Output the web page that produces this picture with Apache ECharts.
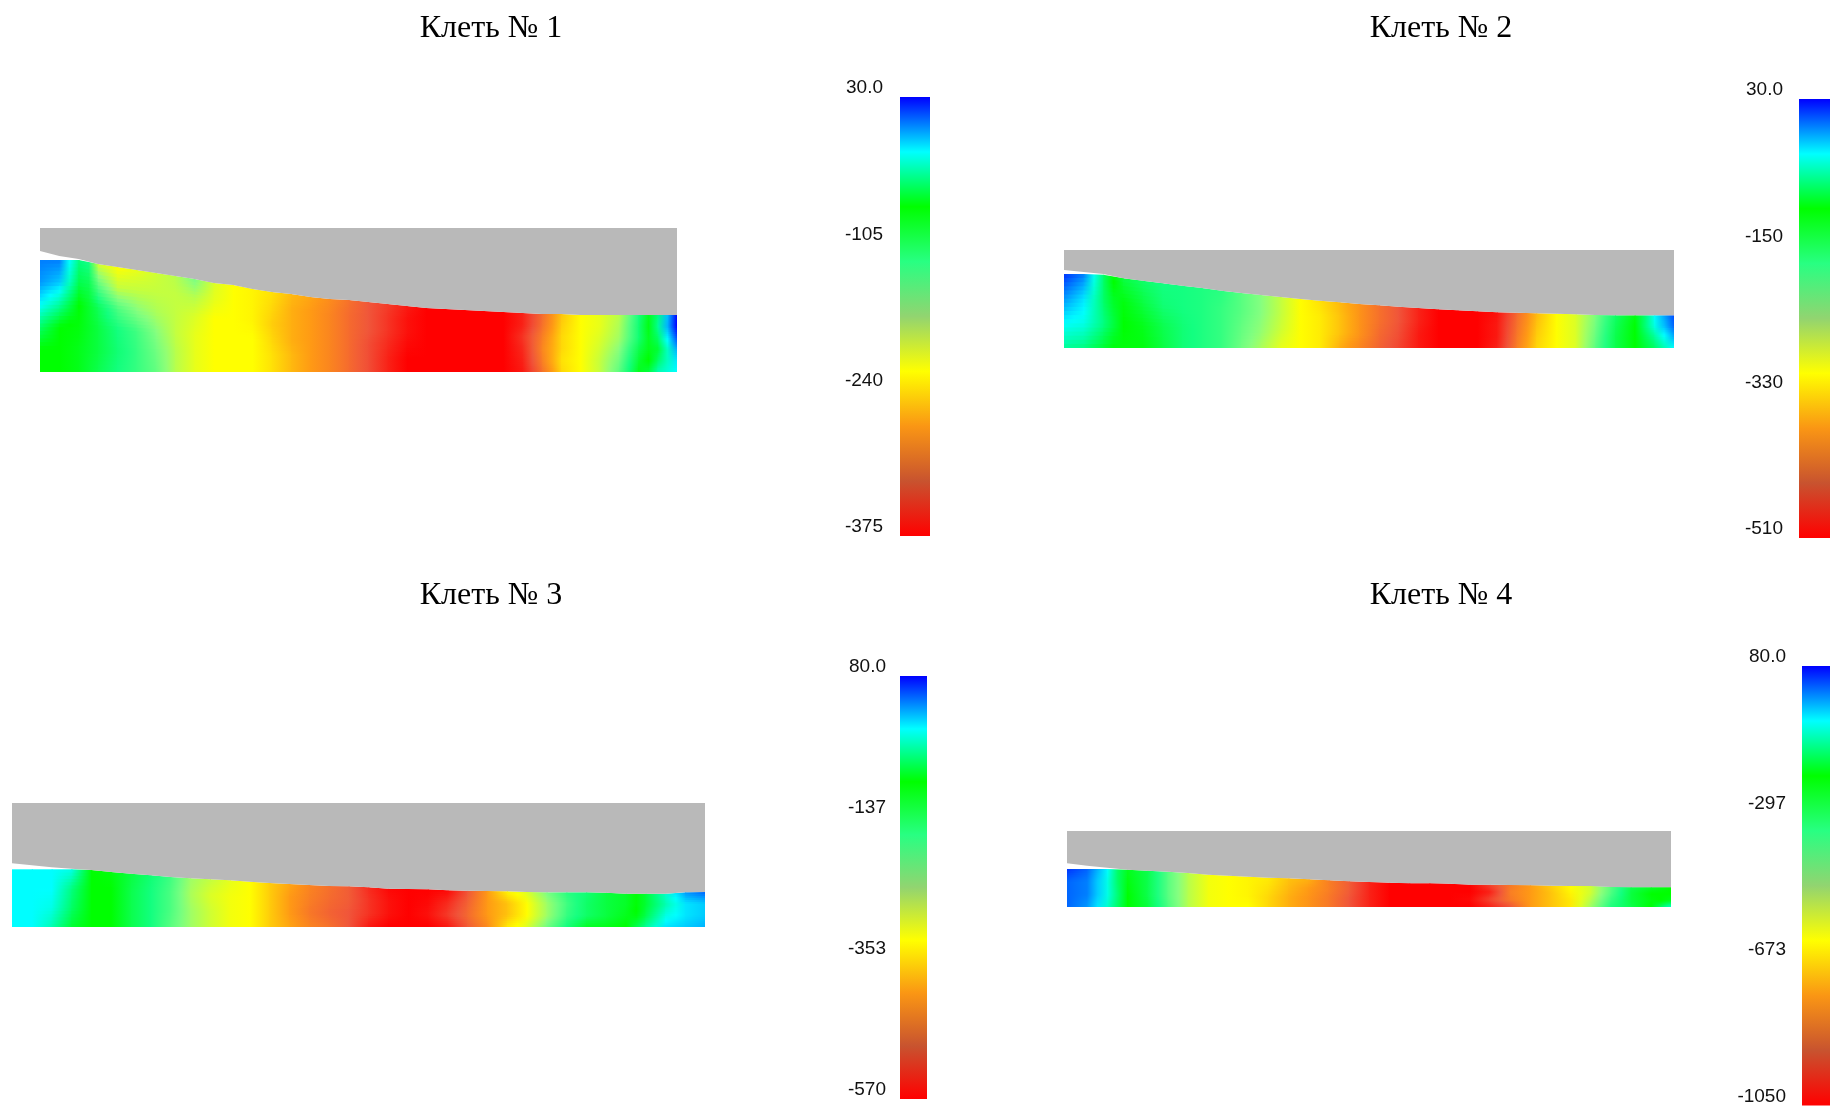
<!DOCTYPE html>
<html><head><meta charset="utf-8">
<style>html,body{margin:0;padding:0;background:#fff}#c{width:1830px;height:1106px}</style>
<script src="https://cdn.jsdelivr.net/npm/echarts@6/dist/echarts.min.js"></script>
</head><body><div id="c"></div>
<script>
const titles = ['Клеть № 1','Клеть № 2','Клеть № 3','Клеть № 4'];

const scaleMax = [30, 30, 80, 80];
const scaleMin = [-375, -510, -570, -1050];
const tickValues1 = [30,-105,-240,-375];
const tickValues2 = [30,-150,-330,-510];
const tickValues3 = [80,-137,-353,-570];
const tickValues4 = [80,-297,-673,-1050];
const tickLabels1 = ['30.0','-105','-240','-375'];
const tickLabels2 = ['30.0','-150','-330','-510'];
const tickLabels3 = ['80.0','-137','-353','-570'];
const tickLabels4 = ['80.0','-297','-673','-1050'];

// strip surface height and roll edge height, per column
const surface1 = [112,112,112,108,105,102,99,96,93,89,87,83,80,78,75,73,72,70,68,66,64,63,62,61,60,59,58,58,57,57,57,57,57,57];
const roll1    = [121,116,113,108,105,102,99,96,93,89,87,83,80,78,75,73,72,70,68,66,64,63,62,61,60,59,58,58,57,57,57,57,57,57];
const surface2 = [74,74,73.3,69.7,67.3,64.7,62.3,60,57.3,55,53,51,49,47.3,45.7,44,42.7,41.3,40,38.7,37.7,36.7,35.7,35.3,34.7,34.3,33.7,33,32.7,32.7,32.7,32.7];
const roll2    = [78,76,74,69.7,67.3,64.7,62.3,60,57.3,55,53,51,49,47.3,45.7,44,42.7,41.3,40,38.7,37.7,36.7,35.7,35.3,34.7,34.3,33.7,33,32.7,32.7,32.7,32.7];
const surface3 = [57.7,57.7,57.7,57.7,57,55,53.3,51.7,50,48.7,47.7,46.7,45.3,44,43,42,41,40.7,39.7,38.3,38,37.7,36.7,36.3,36,35.7,35,34.7,34.7,34.7,34.3,33.3,33.3,33.3,34.7,35];
const roll3    = [63.7,61.7,59.7,58.3,57,55,53.3,51.7,50,48.7,47.7,46.7,45.3,44,43,42,41,40.7,39.7,38.3,38,37.7,36.7,36.3,36,35.7,35,34.7,34.7,34.7,34.3,33.3,33.3,33.3,34.7,35];
const surface4 = [38,38,38,37.3,36.3,35.3,34,32.3,31.3,30.3,29.3,28.7,27.7,26.7,25.7,25,24.3,23.7,23.7,23.3,22.3,22.3,22,21.7,21.3,21,21,20,19.7,19.7,19.7];
const roll4    = [43.7,41.3,39.3,37.3,36.3,35.3,34,32.3,31.3,30.3,29.3,28.7,27.7,26.7,25.7,25,24.3,23.7,23.7,23.3,22.3,22.3,22,21.7,21.3,21,21,20,19.7,19.7,19.7];

// stress field: rows from the strip's lower face (first) to its contact surface (last)
const field1 = [
 [-71,-71,-81,-102,-122,-137,-157,-193,-213,-223,-223,-223,-238,-258,-274,-289,-309,-329,-355,-375,-375,-375,-375,-375,-375,-360,-304,-243,-223,-198,-152,-81,-36,-21],
 [-71,-71,-81,-97,-117,-137,-162,-193,-213,-223,-223,-223,-238,-258,-274,-289,-309,-329,-355,-375,-375,-375,-375,-375,-375,-355,-294,-238,-223,-198,-162,-91,-51,-16],
 [-51,-71,-76,-97,-122,-142,-172,-198,-213,-223,-223,-223,-243,-263,-274,-289,-309,-329,-350,-370,-375,-375,-375,-375,-375,-350,-289,-243,-223,-203,-172,-102,-61,-5],
 [-21,-41,-71,-107,-147,-172,-188,-198,-208,-223,-223,-228,-248,-263,-274,-289,-309,-324,-344,-365,-375,-375,-375,-375,-375,-344,-294,-243,-223,-208,-183,-117,-51,15],
 [0,-10,-56,-152,-198,-198,-198,-198,-193,-213,-223,-228,-243,-263,-274,-289,-309,-324,-344,-365,-375,-375,-375,-375,-375,-355,-304,-248,-223,-213,-188,-117,-41,30],
 [5,5,-46,-203,-223,-213,-203,-193,-167,-208,-223,-228,-238,-258,-269,-284,-304,-324,-339,-360,-375,-375,-375,-375,-375,-355,-309,-253,-223,-213,-193,-122,-46,30]
];
const field2 = [
 [-65,-71,-92,-112,-112,-139,-166,-179,-193,-227,-260,-294,-308,-321,-362,-395,-429,-456,-490,-510,-510,-510,-483,-402,-335,-308,-287,-213,-146,-105,-78,-38],
 [-38,-44,-71,-105,-119,-146,-166,-179,-193,-220,-247,-281,-308,-321,-348,-382,-422,-449,-490,-510,-510,-510,-490,-409,-341,-308,-287,-220,-146,-105,-65,-17],
 [-10,-31,-78,-112,-139,-166,-173,-179,-193,-213,-240,-274,-308,-321,-348,-382,-416,-443,-483,-510,-510,-510,-490,-416,-348,-308,-287,-227,-152,-105,-44,3],
 [17,-4,-78,-139,-159,-173,-173,-179,-186,-213,-240,-274,-308,-328,-355,-382,-416,-443,-483,-510,-510,-510,-497,-422,-355,-308,-287,-233,-159,-112,-38,10]
];
const field3 = [
 [-1,-1,-26,-66,-83,-83,-131,-164,-213,-261,-294,-318,-326,-367,-399,-432,-456,-489,-546,-570,-570,-570,-546,-481,-424,-343,-302,-229,-164,-107,-99,-83,-34,7,15,23],
 [-1,-1,-9,-50,-83,-83,-131,-164,-204,-261,-294,-318,-326,-367,-408,-448,-473,-489,-521,-554,-570,-554,-513,-464,-408,-375,-326,-261,-188,-148,-123,-99,-58,-9,7,15],
 [-1,-1,-1,-42,-83,-83,-131,-164,-204,-269,-302,-318,-326,-367,-408,-440,-464,-481,-521,-554,-570,-562,-529,-473,-408,-375,-326,-261,-196,-148,-123,-107,-66,-26,7,15],
 [-1,-1,-1,-9,-83,-91,-123,-156,-196,-261,-286,-310,-326,-367,-399,-432,-456,-481,-529,-562,-570,-570,-562,-489,-408,-334,-302,-237,-180,-156,-123,-107,-66,-18,31,48]
];
const field4 = [
 [24,-5,-90,-203,-273,-414,-542,-612,-626,-626,-683,-739,-782,-838,-909,-994,-1050,-1050,-1050,-1050,-1050,-994,-909,-768,-711,-655,-513,-358,-287,-203,-90],
 [24,9,-75,-203,-287,-429,-542,-612,-626,-640,-683,-739,-782,-838,-909,-994,-1050,-1050,-1050,-1050,-1036,-937,-838,-768,-711,-655,-542,-386,-273,-217,-188],
 [24,9,-75,-217,-287,-429,-542,-612,-626,-640,-669,-725,-768,-824,-895,-994,-1050,-1050,-1050,-1050,-1050,-994,-824,-768,-711,-640,-570,-414,-273,-203,-203],
 [52,24,-61,-231,-287,-429,-542,-612,-626,-640,-655,-711,-739,-824,-895,-994,-1050,-1050,-1050,-1050,-1050,-937,-838,-768,-697,-626,-570,-429,-287,-245,-203]
];

const barColors = ['#ff0000','#c8532f','#fa9614','#ffff00','#92d470','#28ff82','#00ff00','#00ffff','#0000ff'];
const fieldColors = ['#ff0000','#f0553a','#ff9a14','#ffff00','#86ff80','#12ff80','#00ff00','#00ffff','#0000ff'];
const rollColor = '#b9b9b9';

const layouts = [
 {g:[40,228,637,144],  b:[900,97,30,439],   m:17, h:144},
 {g:[1064,250,610,98], b:[1799,99,31,439],  m:16, h:98},
 {g:[12,803,693,124],  b:[900,676,27,423],  m:14, h:124},
 {g:[1067,831,604,76], b:[1802,666,28,440], m:16, h:76}
];
const titlePos = [[491,13],[1441,13],[491,580],[1441,580]];
const surfaces=[surface1,surface2,surface3,surface4], rolls=[roll1,roll2,roll3,roll4];
const fields=[field1,field2,field3,field4];
const tickVals=[tickValues1,tickValues2,tickValues3,tickValues4];
const tickLabs=[tickLabels1,tickLabels2,tickLabels3,tickLabels4];
const SHADE_STEPS = 6;

function fieldColor(v,p){
  const t=(v-scaleMin[p])/(scaleMax[p]-scaleMin[p]);
  return echarts.color.lerp(Math.max(0,Math.min(1,t)),fieldColors);
}
function heatSeries(p){
  const F=fields[p], S=surfaces[p], R=F.length, N=S.length, data=[];
  F.forEach((row,r)=>row.forEach((v,k)=>data.push([k,r,v])));
  return {
    type:'custom', xAxisIndex:p, yAxisIndex:p, silent:true, clip:true, z:2,
    encode:{x:0,y:1}, dimensions:['col','row','value'], data,
    renderItem(params,api){
      const k=api.value(0), r=api.value(1);
      if(k>=N-1 || r>=R-1) return null;
      // paint the cell between its four read values, shading it down in thin slices
      const children=[];
      for(let s=0;s<SHADE_STEPS;s++){
        const f0=(r+s/SHADE_STEPS)/(R-1), f1=(r+(s+1)/SHADE_STEPS)/(R-1), m=(s+0.5)/SHADE_STEPS;
        const a=api.coord([k,f0*S[k]]), b=api.coord([k+1,f0*S[k+1]]);
        const c=api.coord([k+1,f1*S[k+1]]), d=api.coord([k,f1*S[k]]);
        const vL=F[r][k]+(F[r+1][k]-F[r][k])*m, vR=F[r][k+1]+(F[r+1][k+1]-F[r][k+1])*m;
        const ox=(k<N-2)?1:0, oy=(r<R-2||s<SHADE_STEPS-1)?1:0;
        children.push({type:'polygon',shape:{points:[a,[b[0]+ox,b[1]],[c[0]+ox,c[1]-oy],[d[0],d[1]-oy]]},
          style:{fill:new echarts.graphic.LinearGradient(0,0,1,0,[
            {offset:0,color:fieldColor(vL,p)},{offset:0.5,color:fieldColor((vL+vR)/2,p)},{offset:1,color:fieldColor(vR,p)}])}});
      }
      return {type:'group',children};
    }
  };
}
function rollSeries(p){
  return {type:'line', xAxisIndex:p, yAxisIndex:p, silent:true, z:3, symbol:'none', smooth:false,
    data:rolls[p].map((y,k)=>[k,y]), lineStyle:{width:0,color:rollColor},
    areaStyle:{origin:'end',color:rollColor,opacity:1}};
}
function barSeries(p,gi){
  return {type:'custom', xAxisIndex:gi, yAxisIndex:gi, silent:true, clip:false,
    data:[[0,scaleMin[p],1,scaleMax[p]]], encode:{x:[0,2],y:[1,3]},
    renderItem(params,api){
      const a=api.coord([api.value(0),api.value(3)]), b=api.coord([api.value(2),api.value(1)]);
      return {type:'rect',shape:{x:a[0],y:a[1],width:b[0]-a[0],height:b[1]-a[1]},
        style:{fill:new echarts.graphic.LinearGradient(0,1,0,0,
          barColors.map((color,i)=>({offset:i/(barColors.length-1),color})))}};
    }};
}
const grid=[],xAxis=[],yAxis=[],series=[],visualMap=[],title=[];
layouts.forEach((l,p)=>{
  grid.push({left:l.g[0],top:l.g[1],width:l.g[2],height:l.g[3]});
  xAxis.push({type:'value',gridIndex:p,show:false,min:0,max:surfaces[p].length-1});
  yAxis.push({type:'value',gridIndex:p,show:false,min:0,max:l.h});
  series.push(heatSeries(p),rollSeries(p));
  title.push({text:titles[p],left:titlePos[p][0],top:titlePos[p][1],textAlign:'center',padding:0,
    textStyle:{fontFamily:'Liberation Serif',fontSize:32,fontWeight:'normal',color:'#000'}});
});
layouts.forEach((l,p)=>{
  const gi=grid.length;
  grid.push({left:l.b[0],top:l.b[1],width:l.b[2],height:l.b[3]});
  xAxis.push({type:'value',gridIndex:gi,show:false,min:0,max:1});
  yAxis.push({type:'value',gridIndex:gi,min:scaleMin[p],max:scaleMax[p],splitLine:{show:false},
    axisLine:{show:false},axisTick:{show:false},
    axisLabel:{customValues:tickVals[p],margin:l.m,fontFamily:'Liberation Sans',fontSize:19,color:'#111',
      verticalAlign:'bottom',lineHeight:18,showMinLabel:true,showMaxLabel:true,
      formatter:v=>tickLabs[p][tickVals[p].indexOf(v)]}});
  series.push(barSeries(p,gi));
  visualMap.push({type:'continuous',show:false,min:scaleMin[p],max:scaleMax[p],seriesIndex:p*2,dimension:2,
    calculable:false,hoverLink:false,inRange:{color:barColors}});
});
const chart=echarts.init(document.getElementById('c'),null,{renderer:'canvas'});
chart.setOption({animation:false,backgroundColor:'#fff',title,grid,xAxis,yAxis,series,visualMap});
</script></body></html>
